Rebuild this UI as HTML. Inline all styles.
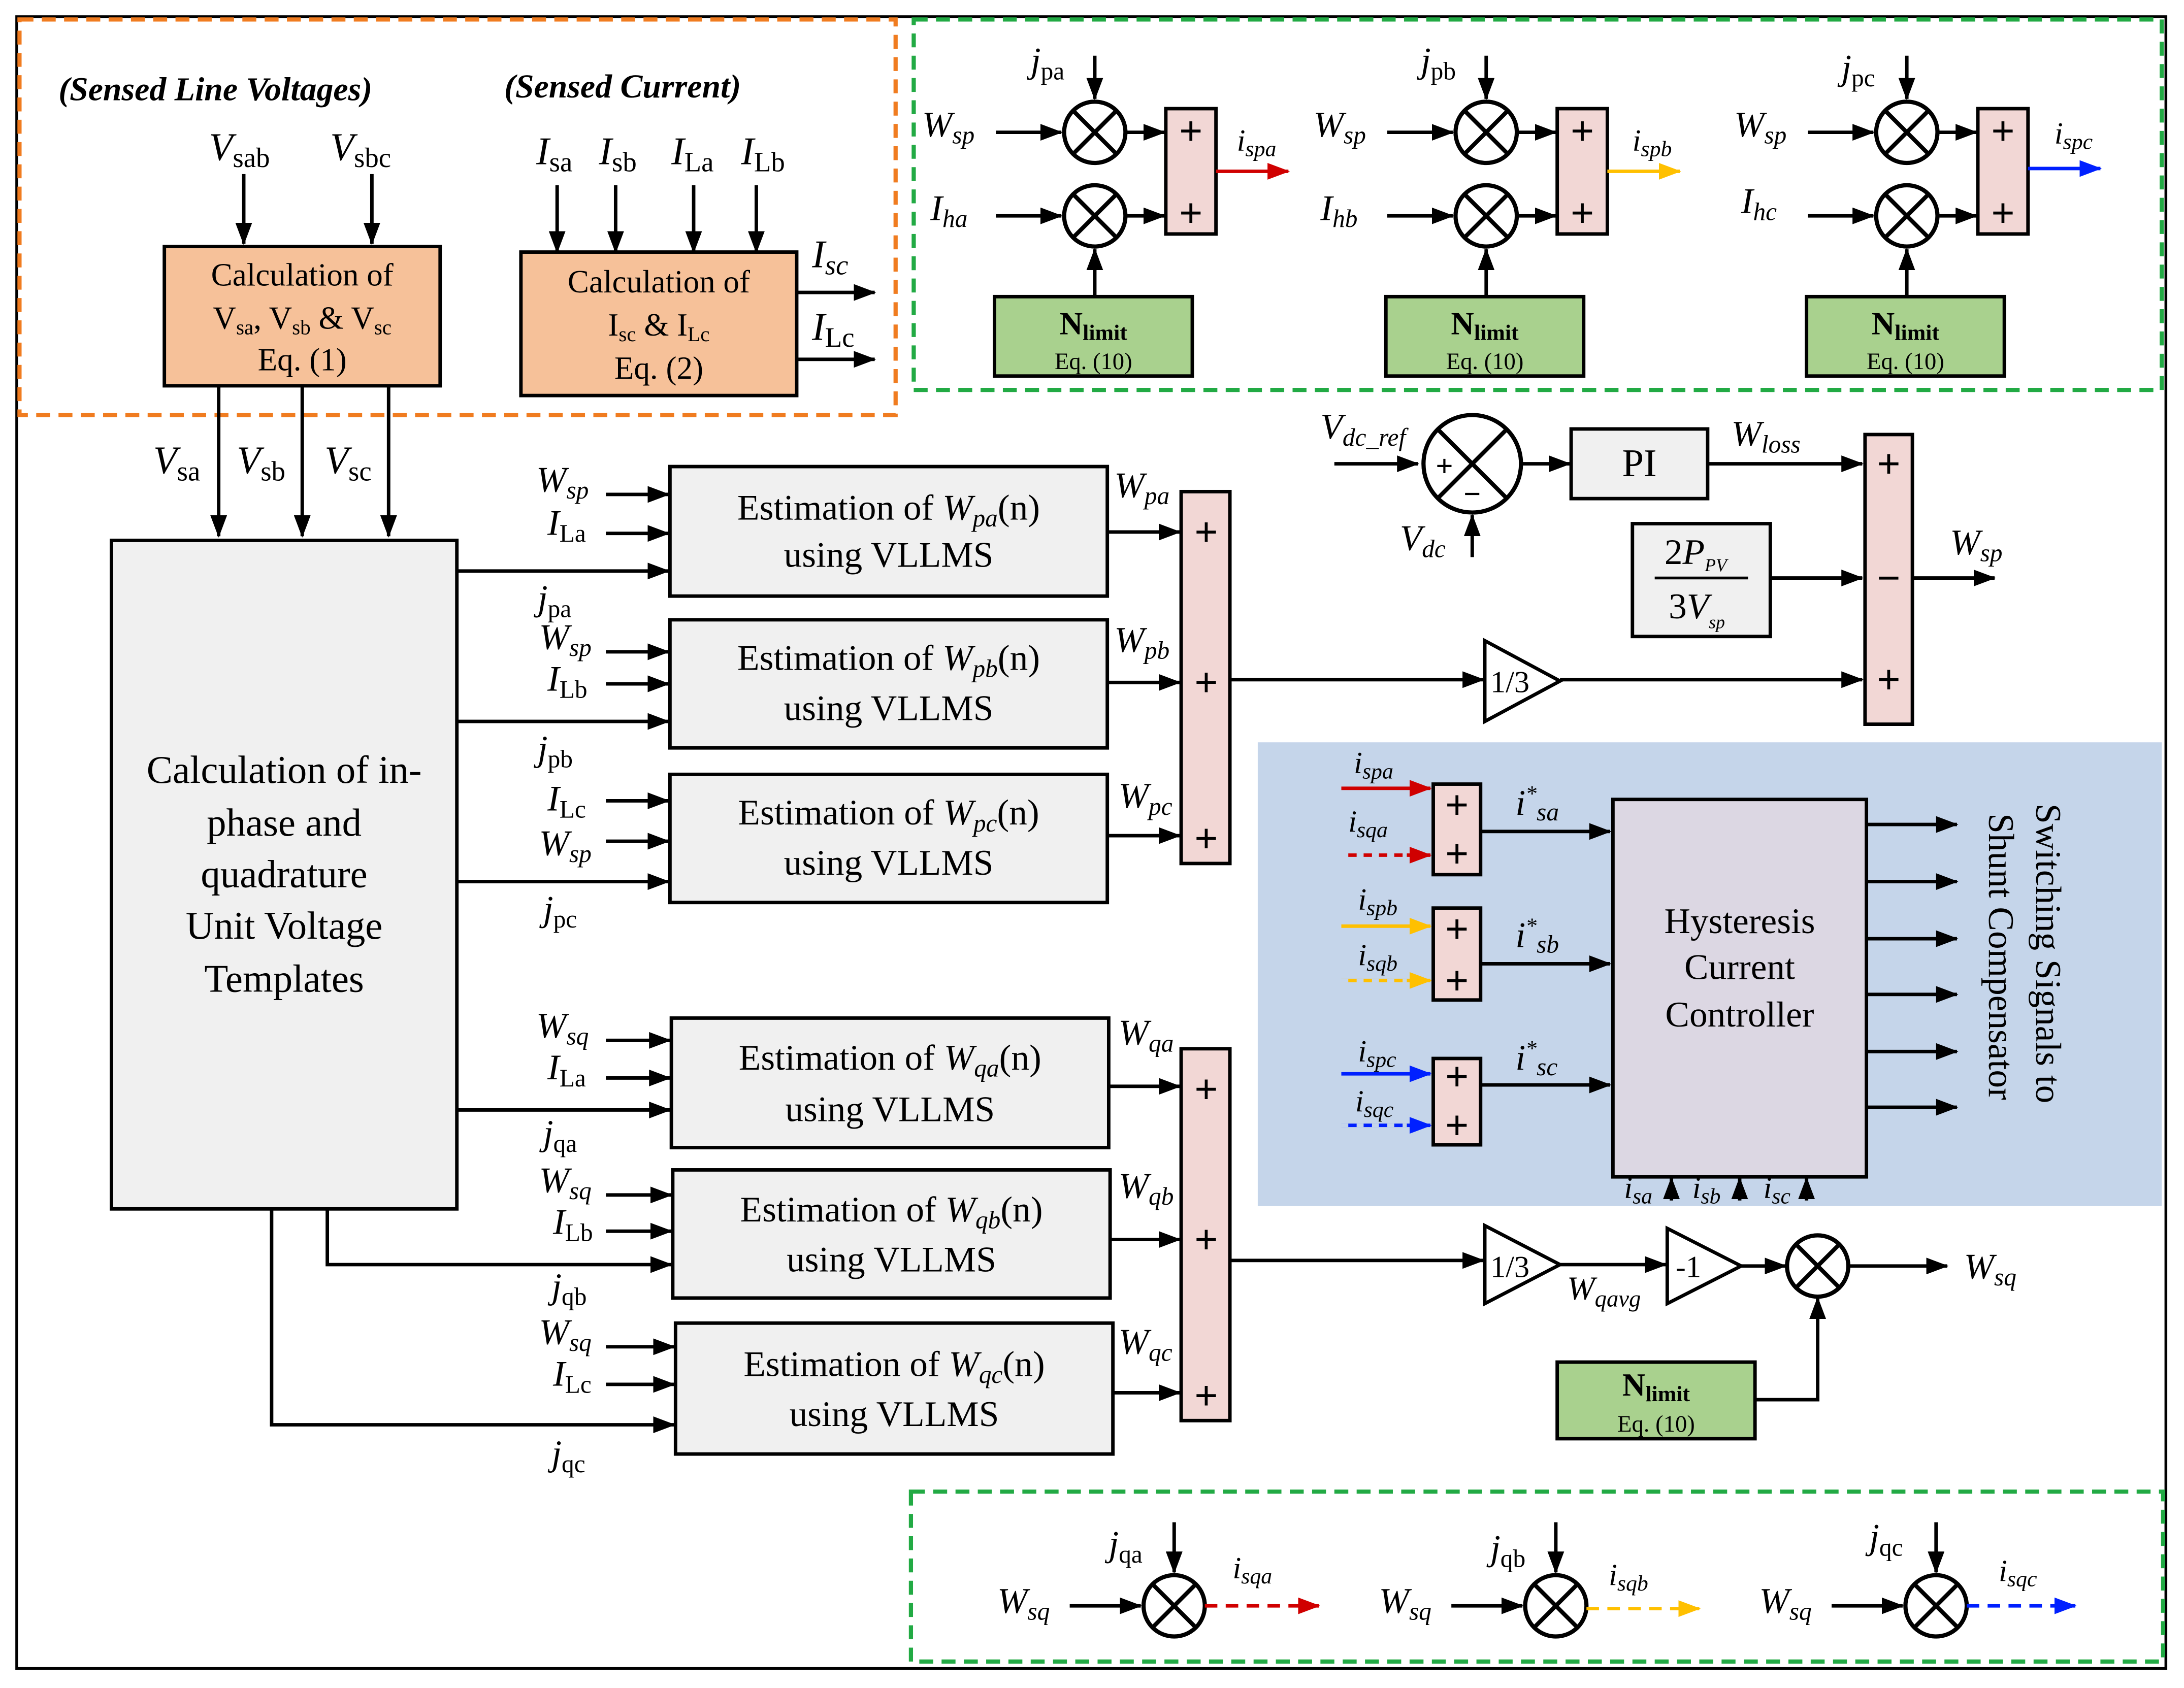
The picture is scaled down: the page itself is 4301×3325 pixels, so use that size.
<!DOCTYPE html>
<html><head><meta charset="utf-8"><style>
html,body{margin:0;padding:0;background:#fff}
svg{display:block}
text{font-family:"Liberation Serif","DejaVu Serif",serif;fill:#000}
.i{font-style:italic}
</style></head><body>
<svg width="4301" height="3325" viewBox="0 0 1568 1212" preserveAspectRatio="none" xmlns="http://www.w3.org/2000/svg" font-family="Liberation Serif, DejaVu Serif, serif">
<defs>
<marker id="a" markerUnits="userSpaceOnUse" markerWidth="16" markerHeight="12" refX="15" refY="6" orient="auto"><path d="M0,0 L16,6 L0,12 z" fill="#000"/></marker>
<marker id="ar" markerUnits="userSpaceOnUse" markerWidth="16" markerHeight="12" refX="15" refY="6" orient="auto"><path d="M0,0 L16,6 L0,12 z" fill="#d00000"/></marker>
<marker id="ay" markerUnits="userSpaceOnUse" markerWidth="16" markerHeight="12" refX="15" refY="6" orient="auto"><path d="M0,0 L16,6 L0,12 z" fill="#ffc000"/></marker>
<marker id="ab" markerUnits="userSpaceOnUse" markerWidth="16" markerHeight="12" refX="15" refY="6" orient="auto"><path d="M0,0 L16,6 L0,12 z" fill="#0020ff"/></marker>
<g id="mul"><circle cx="0" cy="0" r="22" fill="#fff" stroke="#000" stroke-width="3"/><path d="M-15,-15 L15,15 M15,-15 L-15,15" stroke="#000" stroke-width="3"/></g>
</defs>
<rect width="1568" height="1212" fill="#fff"/>
<rect x="12" y="12" width="1543" height="1186" fill="none" stroke="#000" stroke-width="2"/>
<rect x="903" y="533" width="649" height="333" fill="#c5d5ea"/>
<rect x="14" y="14" width="629" height="284" fill="none" stroke="#f07c20" stroke-width="3" stroke-dasharray="10,6"/>
<rect x="656" y="14" width="896" height="266" fill="none" stroke="#22aa44" stroke-width="3" stroke-dasharray="10,6"/>
<rect x="654" y="1071" width="899" height="122" fill="none" stroke="#22aa44" stroke-width="3" stroke-dasharray="10,6"/>

<g stroke="#000" stroke-width="2.5" fill="none" marker-end="url(#a)">
<path d="M175,125V175"/><path d="M267,125V175"/><path d="M400,133V181"/><path d="M442,133V181"/><path d="M498,133V181"/><path d="M543,133V181"/>
<path d="M572,210H628"/><path d="M572,258H628"/>
<path d="M157,277V385"/><path d="M217,277V385"/><path d="M279,277V385"/>
<path d="M435,355H480"/><path d="M435,383H480"/><path d="M328,410H480"/>
<path d="M435,468H480"/><path d="M435,491H480"/><path d="M328,518H480"/>
<path d="M435,575H480"/><path d="M435,604H480"/><path d="M328,633H480"/>
<path d="M435,747H481"/><path d="M435,774H481"/><path d="M328,797H481"/>
<path d="M435,858H482"/><path d="M435,884H482"/><path d="M235,868V908H482"/>
<path d="M435,967H484"/><path d="M435,994H484"/><path d="M195,868V1023H484"/>
<path d="M795,382H847"/><path d="M795,490H847"/><path d="M795,600H847"/><path d="M796,780H847"/><path d="M797,890H847"/><path d="M799,1000H847"/>
<path d="M883,488H1065"/><path d="M1120,488H1337"/><path d="M883,905H1065"/><path d="M1120,908H1196"/><path d="M1250,909H1282"/><path d="M1327,909H1398"/><path d="M1260,1005H1305V932"/>
<path d="M958,333H1018"/><path d="M1092,333H1127"/><path d="M1226,333H1337"/><path d="M1057,400V370"/><path d="M1271,415H1337"/><path d="M1373,415H1432"/>
<path d="M1063,597H1156"/><path d="M1063,692H1156"/><path d="M1063,779H1156"/>
<path d="M1340,592H1405"/><path d="M1340,633H1405"/><path d="M1340,674H1405"/><path d="M1340,714H1405"/><path d="M1340,755H1405"/><path d="M1340,795H1405"/>
<path d="M1200,862V846"/><path d="M1249,862V846"/><path d="M1297,862V846"/>
</g>
<g stroke-width="2.5" fill="none">
<path d="M963,566H1027" stroke="#d00000" marker-end="url(#ar)"/><path d="M963,614H1027" stroke="#d00000" marker-end="url(#ar)"/>
<path d="M963,665H1027" stroke="#ffc000" marker-end="url(#ay)"/><path d="M963,704H1027" stroke="#ffc000" marker-end="url(#ay)"/>
<path d="M963,771H1027" stroke="#0020ff" marker-end="url(#ab)"/><path d="M963,808H1027" stroke="#0020ff" marker-end="url(#ab)"/>
</g>
<path d="M963,614H1010" stroke="#c5d5ea" stroke-width="2.6" stroke-dasharray="5,6" fill="none"/>
<path d="M963,704H1010" stroke="#c5d5ea" stroke-width="2.6" stroke-dasharray="5,6" fill="none"/>
<path d="M963,808H1010" stroke="#c5d5ea" stroke-width="2.6" stroke-dasharray="5,6" fill="none"/>

<rect x="118" y="177" width="198" height="100" fill="#f6c199" stroke="#000" stroke-width="2.5"/>
<text x="217" y="205" font-size="23" text-anchor="middle">Calculation of</text>
<text x="217" y="236" font-size="23" text-anchor="middle">V<tspan font-size="15" dy="4">sa</tspan><tspan dy="-4">, V</tspan><tspan font-size="15" dy="4">sb</tspan><tspan dy="-4"> &amp; V</tspan><tspan font-size="15" dy="4">sc</tspan></text>
<text x="217" y="266" font-size="23" text-anchor="middle">Eq. (1)</text>
<rect x="374" y="181" width="198" height="103" fill="#f6c199" stroke="#000" stroke-width="2.5"/>
<text x="473" y="210" font-size="23" text-anchor="middle">Calculation of</text>
<text x="473" y="241" font-size="23" text-anchor="middle">I<tspan font-size="15" dy="4">sc</tspan><tspan dy="-4"> &amp; I</tspan><tspan font-size="15" dy="4">Lc</tspan></text>
<text x="473" y="272" font-size="23" text-anchor="middle">Eq. (2)</text>

<text x="42" y="72" font-size="24" font-weight="bold" class="i">(Sensed Line Voltages)</text>
<text x="362" y="70" font-size="24" font-weight="bold" class="i">(Sensed Current)</text>
<g font-size="28">
<text x="150" y="115" class="i">V<tspan font-size="20" dy="5" font-style="normal">sab</tspan></text>
<text x="237" y="115" class="i">V<tspan font-size="20" dy="5" font-style="normal">sbc</tspan></text>
<text x="385" y="118" class="i">I<tspan font-size="20" dy="5" font-style="normal">sa</tspan></text>
<text x="430" y="118" class="i">I<tspan font-size="20" dy="5" font-style="normal">sb</tspan></text>
<text x="482" y="118" class="i">I<tspan font-size="20" dy="5" font-style="normal">La</tspan></text>
<text x="532" y="118" class="i">I<tspan font-size="20" dy="5" font-style="normal">Lb</tspan></text>
<text x="583" y="192" class="i">I<tspan font-size="20" dy="5">sc</tspan></text>
<text x="583" y="244" class="i">I<tspan font-size="20" dy="5" font-style="normal">Lc</tspan></text>
<text x="110" y="340" class="i">V<tspan font-size="20" dy="5" font-style="normal">sa</tspan></text>
<text x="170" y="340" class="i">V<tspan font-size="20" dy="5" font-style="normal">sb</tspan></text>
<text x="233" y="340" class="i">V<tspan font-size="20" dy="5" font-style="normal">sc</tspan></text>
</g>

<rect x="80" y="388" width="248" height="480" fill="#f0f0f0" stroke="#000" stroke-width="2.5"/>
<g font-size="28" text-anchor="middle">
<text x="204" y="562">Calculation of in-</text>
<text x="204" y="600">phase and</text>
<text x="204" y="637">quadrature</text>
<text x="204" y="674">Unit Voltage</text>
<text x="204" y="712">Templates</text>
</g>

<g fill="#f0f0f0" stroke="#000" stroke-width="2.5">
<rect x="481" y="335" width="314" height="93"/><rect x="481" y="445" width="314" height="92"/><rect x="481" y="556" width="314" height="92"/>
<rect x="482" y="731" width="314" height="93"/><rect x="483" y="840" width="314" height="92"/><rect x="485" y="950" width="314" height="94"/>
</g>
<g font-size="26" text-anchor="middle">
<text x="638" y="373">Estimation of <tspan class="i">W</tspan><tspan class="i" font-size="18" dy="5">pa</tspan><tspan dy="-5">(n)</tspan></text><text x="638" y="407">using VLLMS</text>
<text x="638" y="481">Estimation of <tspan class="i">W</tspan><tspan class="i" font-size="18" dy="5">pb</tspan><tspan dy="-5">(n)</tspan></text><text x="638" y="517">using VLLMS</text>
<text x="638" y="592">Estimation of <tspan class="i">W</tspan><tspan class="i" font-size="18" dy="5">pc</tspan><tspan dy="-5">(n)</tspan></text><text x="638" y="628">using VLLMS</text>
<text x="639" y="768">Estimation of <tspan class="i">W</tspan><tspan class="i" font-size="18" dy="5">qa</tspan><tspan dy="-5">(n)</tspan></text><text x="639" y="805">using VLLMS</text>
<text x="640" y="877">Estimation of <tspan class="i">W</tspan><tspan class="i" font-size="18" dy="5">qb</tspan><tspan dy="-5">(n)</tspan></text><text x="640" y="913">using VLLMS</text>
<text x="642" y="988">Estimation of <tspan class="i">W</tspan><tspan class="i" font-size="18" dy="5">qc</tspan><tspan dy="-5">(n)</tspan></text><text x="642" y="1024">using VLLMS</text>
</g>
<g font-size="26" class="i">
<text x="385" y="353">W<tspan font-size="18" dy="5">sp</tspan></text>
<text x="393" y="384">I<tspan font-size="18" dy="5" font-style="normal">La</tspan></text>
<text x="386" y="438">j<tspan font-size="18" dy="5" font-style="normal">pa</tspan></text>
<text x="387" y="466">W<tspan font-size="18" dy="5">sp</tspan></text>
<text x="393" y="496">I<tspan font-size="18" dy="5" font-style="normal">Lb</tspan></text>
<text x="386" y="546">j<tspan font-size="18" dy="5" font-style="normal">pb</tspan></text>
<text x="393" y="582">I<tspan font-size="18" dy="5" font-style="normal">Lc</tspan></text>
<text x="387" y="614">W<tspan font-size="18" dy="5">sp</tspan></text>
<text x="390" y="661">j<tspan font-size="18" dy="5" font-style="normal">pc</tspan></text>
<text x="385" y="745">W<tspan font-size="18" dy="5">sq</tspan></text>
<text x="393" y="775">I<tspan font-size="18" dy="5" font-style="normal">La</tspan></text>
<text x="390" y="822">j<tspan font-size="18" dy="5" font-style="normal">qa</tspan></text>
<text x="387" y="856">W<tspan font-size="18" dy="5">sq</tspan></text>
<text x="397" y="886">I<tspan font-size="18" dy="5" font-style="normal">Lb</tspan></text>
<text x="396" y="932">j<tspan font-size="18" dy="5" font-style="normal">qb</tspan></text>
<text x="387" y="965">W<tspan font-size="18" dy="5">sq</tspan></text>
<text x="397" y="995">I<tspan font-size="18" dy="5" font-style="normal">Lc</tspan></text>
<text x="396" y="1052">j<tspan font-size="18" dy="5" font-style="normal">qc</tspan></text>
<text x="800" y="357">W<tspan font-size="18" dy="5">pa</tspan></text>
<text x="800" y="468">W<tspan font-size="18" dy="5">pb</tspan></text>
<text x="803" y="580">W<tspan font-size="18" dy="5">pc</tspan></text>
<text x="803" y="750">W<tspan font-size="18" dy="5">qa</tspan></text>
<text x="803" y="860">W<tspan font-size="18" dy="5">qb</tspan></text>
<text x="803" y="972">W<tspan font-size="18" dy="5">qc</tspan></text>
</g>

<g fill="#f2d7d5" stroke="#000" stroke-width="2.5">
<rect x="848" y="353" width="35" height="267"/><rect x="848" y="753" width="35" height="267"/>
<rect x="1339" y="312" width="34" height="208"/>
<rect x="1029" y="563" width="34" height="65"/><rect x="1029" y="652" width="34" height="66"/><rect x="1029" y="760" width="34" height="62"/>
</g>
<g font-size="30" font-weight="bold" text-anchor="middle">
<text x="866" y="392">+</text><text x="866" y="500">+</text><text x="866" y="612">+</text>
<text x="866" y="792">+</text><text x="866" y="900">+</text><text x="866" y="1012">+</text>
<text x="1356" y="343">+</text><text x="1356" y="425">−</text><text x="1356" y="498">+</text>
<text x="1046" y="588">+</text><text x="1046" y="623">+</text>
<text x="1046" y="677">+</text><text x="1046" y="714">+</text>
<text x="1046" y="783">+</text><text x="1046" y="818">+</text>
</g>

<g fill="#fff" stroke="#000" stroke-width="2.5">
<path d="M1066,460L1120,489L1066,518z"/><path d="M1066,880L1120,908L1066,936z"/><path d="M1197,882L1250,909L1197,936z"/>
</g>
<text x="1070" y="497" font-size="22">1/3</text>
<text x="1070" y="917" font-size="22">1/3</text>
<text x="1203" y="917" font-size="22">-1</text>
<use href="#mul" x="1305" y="909"/>
<text x="1125" y="933" font-size="24" class="i">W<tspan font-size="17" dy="5">qavg</tspan></text>
<text x="1410" y="918" font-size="26" class="i">W<tspan font-size="18" dy="5">sq</tspan></text>

<circle cx="1057" cy="333" r="35" fill="#fff" stroke="#000" stroke-width="3"/>
<path d="M1032,308L1082,358M1082,308L1032,358" stroke="#000" stroke-width="3"/>
<text x="1037" y="342" font-size="22" font-weight="bold" text-anchor="middle">+</text>
<text x="1057" y="362" font-size="22" font-weight="bold" text-anchor="middle">−</text>
<rect x="1128" y="308" width="98" height="50" fill="#f0f0f0" stroke="#000" stroke-width="2.5"/>
<text x="1177" y="342" font-size="28" text-anchor="middle">PI</text>
<text x="948" y="315" font-size="26" class="i">V<tspan font-size="18" dy="5">dc_ref</tspan></text>
<text x="1005" y="395" font-size="26" class="i">V<tspan font-size="18" dy="5">dc</tspan></text>
<text x="1243" y="320" font-size="26" class="i">W<tspan font-size="18" dy="5">loss</tspan></text>
<text x="1400" y="398" font-size="26" class="i">W<tspan font-size="18" dy="5">sp</tspan></text>
<rect x="1172" y="376" width="99" height="81" fill="#f0f0f0" stroke="#000" stroke-width="2.5"/>
<text x="1195" y="405" font-size="26">2<tspan class="i">P</tspan><tspan class="i" font-size="13" dy="5">PV</tspan></text>
<path d="M1188,415H1255" stroke="#000" stroke-width="2"/>
<text x="1198" y="444" font-size="26">3<tspan class="i">V</tspan><tspan class="i" font-size="13" dy="7">sp</tspan></text>

<rect x="1118" y="978" width="142" height="55" fill="#a9d18e" stroke="#000" stroke-width="2.5"/>
<text x="1189" y="1002" font-size="23" font-weight="bold" text-anchor="middle">N<tspan font-size="16" dy="4">limit</tspan></text>
<text x="1189" y="1028" font-size="17" text-anchor="middle">Eq. (10)</text>

<rect x="1158" y="574" width="182" height="271" fill="#dcd7e3" stroke="#000" stroke-width="2.5"/>
<g font-size="26" text-anchor="middle"><text x="1249" y="670">Hysteresis</text><text x="1249" y="703">Current</text><text x="1249" y="737">Controller</text></g>
<text transform="translate(1462,577) rotate(90)" font-size="26">Switching Signals to</text>
<text transform="translate(1428,584) rotate(90)" font-size="26">Shunt Compensator</text>
<g font-size="22" class="i">
<text x="972" y="555">i<tspan font-size="16" dy="4">spa</tspan></text>
<text x="968" y="597">i<tspan font-size="16" dy="4">sqa</tspan></text>
<text x="975" y="653">i<tspan font-size="16" dy="4">spb</tspan></text>
<text x="975" y="693">i<tspan font-size="16" dy="4">sqb</tspan></text>
<text x="975" y="762">i<tspan font-size="16" dy="4">spc</tspan></text>
<text x="973" y="798">i<tspan font-size="16" dy="4">sqc</tspan></text>
<text x="1088" y="585" font-size="26">i<tspan font-size="16" dy="-10">*</tspan><tspan font-size="18" dy="14">sa</tspan></text>
<text x="1088" y="680" font-size="26">i<tspan font-size="16" dy="-10">*</tspan><tspan font-size="18" dy="14">sb</tspan></text>
<text x="1088" y="768" font-size="26">i<tspan font-size="16" dy="-10">*</tspan><tspan font-size="18" dy="14">sc</tspan></text>
<text x="1166" y="860">i<tspan font-size="16" dy="4">sa</tspan></text>
<text x="1215" y="860">i<tspan font-size="16" dy="4">sb</tspan></text>
<text x="1266" y="860">i<tspan font-size="16" dy="4">sc</tspan></text>
</g>

<g id="unitA">
<g stroke="#000" stroke-width="2.5" fill="none" marker-end="url(#a)">
<path d="M715,95H762"/><path d="M715,155H762"/><path d="M786,40V71"/><path d="M808,95H836"/><path d="M808,155H836"/><path d="M786,213V179"/>
</g>
<use href="#mul" x="786" y="95"/><use href="#mul" x="786" y="155"/>
<rect x="837" y="78" width="36" height="90" fill="#f2d7d5" stroke="#000" stroke-width="2.5"/>
<text x="855" y="104" font-size="30" font-weight="bold" text-anchor="middle">+</text>
<text x="855" y="163" font-size="30" font-weight="bold" text-anchor="middle">+</text>
<rect x="714" y="213" width="142" height="57" fill="#a9d18e" stroke="#000" stroke-width="2.5"/>
<text x="785" y="240" font-size="23" font-weight="bold" text-anchor="middle">N<tspan font-size="16" dy="4">limit</tspan></text>
<text x="785" y="265" font-size="17" text-anchor="middle">Eq. (10)</text>
<text x="662" y="98" font-size="26" class="i">W<tspan font-size="18" dy="5">sp</tspan></text>
</g>
<use href="#unitA" x="281"/>
<use href="#unitA" x="583"/>
<path d="M873,123H925" stroke="#d00000" stroke-width="2.5" marker-end="url(#ar)"/>
<path d="M1154,123H1206" stroke="#ffc000" stroke-width="2.5" marker-end="url(#ay)"/>
<path d="M1456,121H1508" stroke="#0020ff" stroke-width="2.5" marker-end="url(#ab)"/>
<g font-size="26" class="i">
<text x="668" y="158">I<tspan font-size="18" dy="5">ha</tspan></text>
<text x="948" y="158">I<tspan font-size="18" dy="5">hb</tspan></text>
<text x="1250" y="153">I<tspan font-size="18" dy="5">hc</tspan></text>
<text x="740" y="52">j<tspan font-size="18" dy="5" font-style="normal">pa</tspan></text>
<text x="1020" y="52">j<tspan font-size="18" dy="5" font-style="normal">pb</tspan></text>
<text x="1322" y="57">j<tspan font-size="18" dy="5" font-style="normal">pc</tspan></text>
<text x="888" y="108" font-size="22">i<tspan font-size="16" dy="4">spa</tspan></text>
<text x="1172" y="108" font-size="22">i<tspan font-size="16" dy="4">spb</tspan></text>
<text x="1475" y="103" font-size="22">i<tspan font-size="16" dy="4">spc</tspan></text>
</g>

<g id="unitB">
<g stroke="#000" stroke-width="2.5" fill="none" marker-end="url(#a)">
<path d="M768,1153H819"/><path d="M843,1093V1129"/>
</g>
<use href="#mul" x="843" y="1153"/>
<text x="716" y="1158" font-size="26" class="i">W<tspan font-size="18" dy="5">sq</tspan></text>
</g>
<use href="#unitB" x="274"/>
<use href="#unitB" x="547"/>
<path d="M865,1153H947" stroke="#d00000" stroke-width="2.5" stroke-dasharray="9,6" marker-end="url(#ar)"/>
<path d="M1139,1155H1220" stroke="#ffc000" stroke-width="2.5" stroke-dasharray="9,6" marker-end="url(#ay)"/>
<path d="M1412,1153H1490" stroke="#0020ff" stroke-width="2.5" stroke-dasharray="9,6" marker-end="url(#ab)"/>
<g font-size="26" class="i">
<text x="796" y="1117">j<tspan font-size="18" dy="5" font-style="normal">qa</tspan></text>
<text x="1070" y="1120">j<tspan font-size="18" dy="5" font-style="normal">qb</tspan></text>
<text x="1342" y="1112">j<tspan font-size="18" dy="5" font-style="normal">qc</tspan></text>
<text x="885" y="1133" font-size="22">i<tspan font-size="16" dy="4">sqa</tspan></text>
<text x="1155" y="1138" font-size="22">i<tspan font-size="16" dy="4">sqb</tspan></text>
<text x="1435" y="1135" font-size="22">i<tspan font-size="16" dy="4">sqc</tspan></text>
</g>
</svg>
</body></html>
